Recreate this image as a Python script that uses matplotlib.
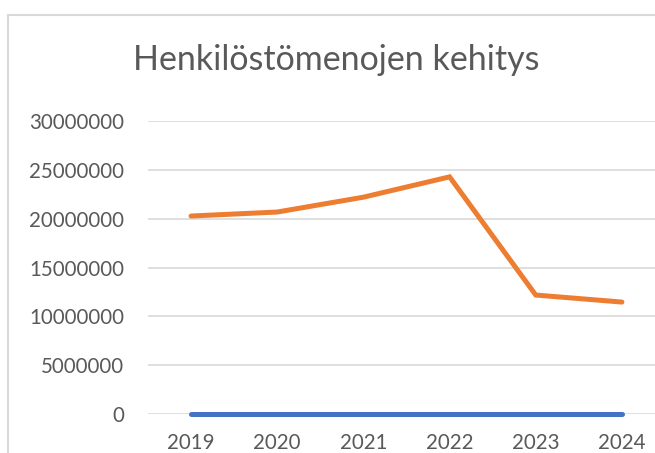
import matplotlib
matplotlib.use("Agg")
import matplotlib.pyplot as plt
from matplotlib.patches import Rectangle

# Datos
anios = ["2019", "2020", "2021", "2022", "2023", "2024"]
henkilostomenot = [20270000, 20680000, 22200000, 24280000, 12180000, 11460000]
sarja_sininen = [0, 0, 0, 0, 0, 0]
y_ticks = [0, 5000000, 10000000, 15000000, 20000000, 25000000, 30000000]

plt.rcParams["font.family"] = ["Lato", "DejaVu Sans"]
texto = "#595959"

fig = plt.figure(figsize=(6.55, 4.53), dpi=100)
ax = fig.add_axes([148 / 655, 1 - 414 / 453, (665 - 148) / 655, (414 - 121) / 453])

x = list(range(len(anios)))
ax.plot(x, sarja_sininen, color="#4472C4", linewidth=3.6, solid_capstyle="round", clip_on=False, zorder=3)
ax.plot(x, henkilostomenot, color="#ED7D31", linewidth=3.6, solid_capstyle="round",
        solid_joinstyle="miter", clip_on=False, zorder=3)

ax.set_xlim(-0.5, len(anios) - 0.5)
ax.set_ylim(0, 30000000)
ax.set_yticks(y_ticks)
ax.set_yticklabels([str(v) for v in y_ticks])
ax.set_xticks(x)
ax.set_xticklabels(anios)
ax.grid(axis="y", color="#D9D9D9", linewidth=1.2)
ax.set_axisbelow(True)
for s in ax.spines.values():
    s.set_visible(False)
ax.tick_params(length=0, colors=texto, labelsize=14.8)
ax.tick_params(axis="y", pad=17)
ax.tick_params(axis="x", pad=14)

fig.text(336 / 655, 1 - 60 / 453, "Henkilöstömenojen kehitys", ha="center", va="center",
         fontsize=24.5, color=texto)

# Marco del gráfico
fig.patches.append(Rectangle((8 / 655, -0.1), 1.2, 1 - 15 / 453 + 0.1, transform=fig.transFigure,
                             fill=False, edgecolor="#D9D9D9", linewidth=1.5))

plt.savefig("out.png", dpi=100)
